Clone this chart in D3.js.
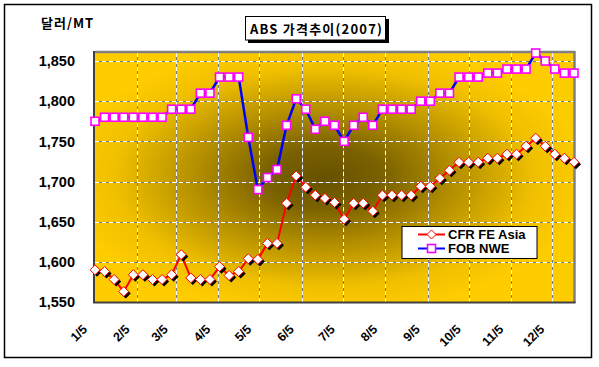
<!DOCTYPE html>
<html><head><meta charset="utf-8">
<script src="https://cdn.jsdelivr.net/npm/d3@7"></script>
<style>
html,body{margin:0;padding:0;background:#fff;}
svg{display:block;}
text{font-family:"Liberation Sans",Arial,sans-serif;font-weight:bold;fill:#000;}
</style></head>
<body>
<script>
const dates = ["2007-01-05","2007-01-12","2007-01-19","2007-01-26","2007-02-02","2007-02-09","2007-02-16","2007-02-23","2007-03-02","2007-03-09","2007-03-16","2007-03-23","2007-03-30","2007-04-06","2007-04-13","2007-04-20","2007-04-27","2007-05-04","2007-05-11","2007-05-18","2007-05-25","2007-06-01","2007-06-08","2007-06-15","2007-06-22","2007-06-29","2007-07-06","2007-07-13","2007-07-20","2007-07-27","2007-08-03","2007-08-10","2007-08-17","2007-08-24","2007-08-31","2007-09-07","2007-09-14","2007-09-21","2007-09-28","2007-10-05","2007-10-12","2007-10-19","2007-10-26","2007-11-02","2007-11-09","2007-11-16","2007-11-23","2007-11-30","2007-12-07","2007-12-14","2007-12-21"];
const cfrFEAsia = [1590,1588,1578,1563,1584,1584,1578,1578,1584,1609,1580,1578,1578,1594,1583,1588,1604,1603,1623,1623,1673,1707,1693,1683,1679,1674,1653,1673,1673,1663,1683,1683,1683,1683,1694,1694,1704,1714,1724,1724,1724,1729,1729,1734,1734,1744,1754,1744,1734,1729,1724];
const fobNWE = [1775,1780,1780,1780,1780,1780,1780,1780,1790,1790,1790,1810,1810,1830,1830,1830,1755,1690,1705,1715,1770,1803,1790,1765,1775,1770,1750,1770,1780,1770,1790,1790,1790,1790,1800,1800,1810,1810,1830,1830,1830,1835,1835,1840,1840,1840,1860,1850,1840,1835,1835];
const tickDates = ["2007-01-05","2007-02-05","2007-03-05","2007-04-05","2007-05-05","2007-06-05","2007-07-05","2007-08-05","2007-09-05","2007-10-05","2007-11-05","2007-12-05"];
const tickLabels = ["1/5","2/5","3/5","4/5","5/5","6/5","7/5","8/5","9/5","10/5","11/5","12/5"];
const yTicks = [1550,1600,1650,1700,1750,1800,1850];
const seriesNames = ["CFR FE Asia","FOB NWE"];
const title = "ABS 가격추이(2007)";
const unitLabel = "달러/MT";

const W = 599, H = 367;
const P = {l:95, r:574, t:53, b:302};
const parse = d3.timeParse("%Y-%m-%d");
const xDates = dates.map(parse);

const svg = d3.select("body").append("svg").attr("width", W).attr("height", H);
const defs = svg.append("defs");
const grad = defs.append("radialGradient").attr("id","bg")
  .attr("cx","0.48").attr("cy","0.5").attr("r","0.55").attr("fx","0.48").attr("fy","0.5");
[[0,"#665100"],[0.22,"#7a6100"],[0.5,"#b59000"],[0.8,"#f0c000"],[1,"#ffcc00"]]
  .forEach(s=>grad.append("stop").attr("offset",s[0]).attr("stop-color",s[1]));

// outer border
svg.append("rect").attr("x",4.5).attr("y",4.5).attr("width",587).attr("height",353)
  .attr("fill","#fff").attr("stroke","#000").attr("stroke-width",1.5);

const x = d3.scaleTime().domain([xDates[0], xDates[xDates.length-1]]).range([P.l, P.r]);
const y = d3.scaleLinear().domain([1550, 1860]).range([P.b, P.t]);

// plot background
svg.append("rect").attr("x",P.l).attr("y",P.t).attr("width",P.r-P.l).attr("height",P.b-P.t).attr("fill","url(#bg)");

// gridlines
const grid = svg.append("g");
const hg = yTicks.filter(v=>v>1550);
grid.selectAll(".hg").data(hg).join("line").attr("x1",P.l).attr("x2",P.r)
  .attr("y1",d=>Math.round(y(d))+0.5).attr("y2",d=>Math.round(y(d))+0.5).attr("stroke","#7a7a7a").attr("stroke-width",1);
grid.selectAll(".hgw").data(hg).join("line").attr("x1",P.l).attr("x2",P.r)
  .attr("y1",d=>Math.round(y(d))+0.5).attr("y2",d=>Math.round(y(d))+0.5).attr("stroke","#fff").attr("stroke-width",1).attr("stroke-dasharray","4,3");
const vg = tickDates.slice(1).map(parse);
grid.selectAll(".vg").data(vg).join("line").attr("y1",P.t).attr("y2",P.b)
  .attr("x1",d=>Math.round(x(d))+0.5).attr("x2",d=>Math.round(x(d))+0.5).attr("stroke","#7a7a7a");
grid.selectAll(".vgw").data(vg).join("line").attr("y1",P.t).attr("y2",P.b)
  .attr("x1",d=>Math.round(x(d))+0.5).attr("x2",d=>Math.round(x(d))+0.5).attr("stroke","#fff").attr("stroke-dasharray","4,3");

// plot border
svg.append("line").attr("x1",P.l).attr("x2",P.r+1).attr("y1",P.t-1).attr("y2",P.t-1).attr("stroke","#808080").attr("stroke-width",2.5);
svg.append("line").attr("x1",P.r+0.5).attr("x2",P.r+0.5).attr("y1",P.t-2).attr("y2",P.b+1).attr("stroke","#808080").attr("stroke-width",2.5);
svg.append("line").attr("x1",P.l-1).attr("x2",P.l-1).attr("y1",P.t-2).attr("y2",P.b+1).attr("stroke","#404040").attr("stroke-width",2);
svg.append("line").attr("x1",P.l-2).attr("x2",P.r+1.5).attr("y1",P.b+0.5).attr("y2",P.b+0.5).attr("stroke","#404040").attr("stroke-width",2);

// y axis labels
svg.append("g").selectAll("text").data(yTicks).join("text")
  .attr("x",75).attr("y",d=>y(d)).attr("dy","0.36em").attr("text-anchor","end")
  .style("font-size","14.5px").text(d=>d3.format(",")(d));

// x axis labels
svg.append("g").selectAll("text").data(tickDates).join("text")
  .attr("transform",d=>`translate(${x(parse(d))-7},${P.b+28}) rotate(-45)`)
  .attr("text-anchor","end").style("font-size","12.5px")
  .text((d,i)=>tickLabels[i]);

// unit label
svg.append("text").attr("x",41).attr("y",28).style("font-family","'Noto Sans CJK KR',sans-serif")
  .style("font-size","13px").attr("letter-spacing","1px").text(unitLabel);

// title box
svg.append("rect").attr("x",248).attr("y",19).attr("width",141).attr("height",24).attr("fill","#000");
svg.append("rect").attr("x",245.5).attr("y",16.5).attr("width",140).attr("height",23.5).attr("fill","#fff").attr("stroke","#000").attr("stroke-width",1);
svg.append("text").attr("x",250).attr("y",33.5).style("font-family","'Noto Sans CJK KR',sans-serif")
  .style("font-size","13px").attr("textLength",132).attr("lengthAdjust","spacing").text(title);

// lines
const lineGen = d3.line().x((d,i)=>x(xDates[i])).y(d=>y(d));
svg.append("path").datum(cfrFEAsia).attr("d",lineGen).attr("fill","none").attr("stroke","#ff0000").attr("stroke-width",2);
svg.append("path").datum(fobNWE).attr("d",lineGen).attr("fill","none").attr("stroke","#0000ff").attr("stroke-width",2.5);

const dia = s => `M0,${-s}L${s},0L0,${s}L${-s},0Z`;
// CFR markers
const cm = svg.append("g");
cm.selectAll(".sh").data(cfrFEAsia).join("path").attr("d",dia(5))
  .attr("transform",(d,i)=>`translate(${x(xDates[i])+2},${y(d)+2})`).attr("fill","#000");
cm.selectAll(".mk").data(cfrFEAsia).join("path").attr("d",dia(5))
  .attr("transform",(d,i)=>`translate(${x(xDates[i])},${y(d)})`).attr("fill","#fff").attr("stroke","#ff0000").attr("stroke-width",1);

// FOB markers
svg.append("g").selectAll("rect").data(fobNWE).join("rect")
  .attr("x",(d,i)=>x(xDates[i])-4).attr("y",d=>y(d)-4).attr("width",8).attr("height",8)
  .attr("fill","#fff").attr("stroke","#ff00ff").attr("stroke-width",1.6);

// legend
const lg = svg.append("g");
lg.append("rect").attr("x",402).attr("y",226.5).attr("width",135).attr("height",32).attr("fill","#fff").attr("stroke","#000").attr("stroke-width",1);
lg.append("line").attr("x1",418).attr("x2",445).attr("y1",234.5).attr("y2",234.5).attr("stroke","#ff0000").attr("stroke-width",2);
lg.append("path").attr("d",dia(4.5)).attr("transform","translate(431.5,234.5)").attr("fill","#fff").attr("stroke","#ff0000").attr("stroke-width",1);
lg.append("line").attr("x1",418).attr("x2",445).attr("y1",248.5).attr("y2",248.5).attr("stroke","#0000ff").attr("stroke-width",2);
lg.append("rect").attr("x",427.5).attr("y",244.5).attr("width",8).attr("height",8).attr("fill","#fff").attr("stroke","#ff00ff").attr("stroke-width",1.6);
lg.selectAll("text").data(seriesNames).join("text").attr("x",448).attr("y",(d,i)=>234.5+i*14).attr("dy","0.36em")
  .style("font-size","13px").text(d=>d);
</script>
</body></html>
